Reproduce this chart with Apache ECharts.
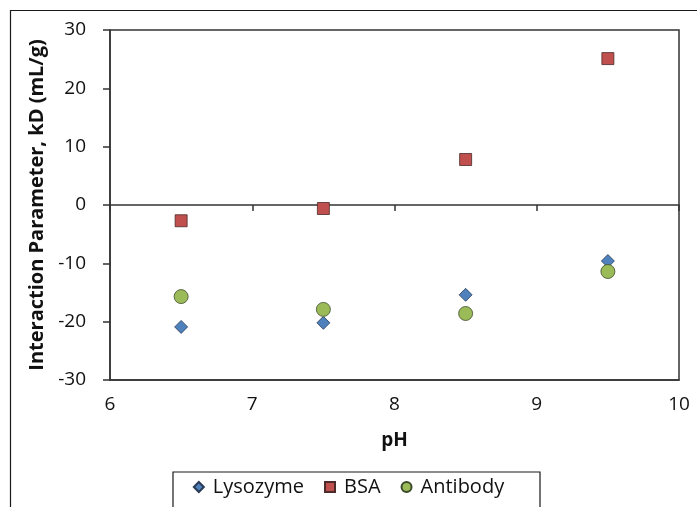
<!DOCTYPE html>
<html><head><meta charset="utf-8">
<script src="https://cdn.jsdelivr.net/npm/echarts@6/dist/echarts.min.js"></script>
<style>html,body{margin:0;padding:0;background:#fff}#c{width:697px;height:507px}</style>
</head><body><div id="c"></div>
<script>
const phValues = [6.5, 7.5, 8.5, 9.5];
const lysozyme = [-20.9, -20.2, -15.4, -9.6];
const bsa = [-2.7, -0.6, 7.8, 25.1];
const antibody = [-15.7, -17.9, -18.6, -11.4];
const xTicks = [6, 7, 8, 9, 10];
const yTicks = [-30, -20, -10, 0, 10, 20, 30];

const font = '"Open Sans", Lato, sans-serif';
const pair = (ys) => phValues.map((x, i) => [x, ys[i]]);
const chart = echarts.init(document.getElementById('c'));
chart.setOption({
  animation: false,
  graphic: [
    {type: 'rect', shape: {x: 10.5, y: 10.5, width: 700, height: 520}, style: {fill: 'none', stroke: '#1a1a1a', lineWidth: 1.2}, z: -1},
    {type: 'rect', shape: {x: 173, y: 472, width: 367, height: 50}, style: {fill: '#fff', stroke: '#1a1a1a', lineWidth: 1.2}, z: 0}
  ],
  grid: {left: 110, top: 30, right: 18, bottom: 127, show: true, borderColor: '#333', borderWidth: 1.5},
  legend: {
    bottom: 5, left: 'center', itemGap: 20, itemWidth: 10, itemHeight: 10,
    textStyle: {fontFamily: font, fontSize: 20, color: '#111', padding: [0, 0, 0, 4]},
    data: [
      {name: 'Lysozyme', icon: 'diamond'},
      {name: 'BSA', icon: 'rect'},
      {name: 'Antibody', icon: 'circle'}
    ], z: 5
  },
  xAxis: [{
    type: 'value', min: xTicks[0], max: xTicks[xTicks.length - 1], interval: 1,
    position: 'bottom',
    axisLine: {onZero: false, lineStyle: {color: '#333', width: 1.5}},
    axisTick: {show: false},
    splitLine: {show: false},
    axisLabel: {fontFamily: font, fontSize: 19, color: '#111', margin: 15},
    name: 'pH', nameLocation: 'middle', nameGap: 51,
    nameTextStyle: {fontFamily: font, fontSize: 19, fontWeight: 'bold', color: '#111'}
  }, {
    type: 'value', min: xTicks[0], max: xTicks[xTicks.length - 1], interval: 1,
    position: 'bottom',
    axisLine: {onZero: true, lineStyle: {color: '#333', width: 1.5}},
    axisTick: {show: true, length: 6, lineStyle: {color: '#333', width: 1.5}},
    axisLabel: {show: false},
    splitLine: {show: false}
  }],
  yAxis: {
    type: 'value', min: yTicks[0], max: yTicks[yTicks.length - 1], interval: 10,
    axisLine: {show: true, lineStyle: {color: '#333', width: 1.5}},
    axisTick: {show: true, length: 7, lineStyle: {color: '#333', width: 1.5}},
    splitLine: {show: false},
    axisLabel: {fontFamily: font, fontSize: 19, color: '#111', margin: 24},
    name: 'Interaction Parameter, kD (mL/g)', nameLocation: 'middle', nameGap: 58,
    nameTextStyle: {fontFamily: font, fontSize: 20, fontWeight: 'bold', color: '#111'}
  },
  series: [
    {name: 'Lysozyme', type: 'scatter', symbol: 'diamond', symbolSize: 13, data: pair(lysozyme),
     itemStyle: {color: '#4F81BD', opacity: 1, borderColor: '#2a3a55', borderWidth: 0.8}},
    {name: 'BSA', type: 'scatter', symbol: 'rect', symbolSize: 12, data: pair(bsa),
     itemStyle: {color: '#C0504D', opacity: 1, borderColor: '#4a2a2a', borderWidth: 0.8}},
    {name: 'Antibody', type: 'scatter', symbol: 'circle', symbolSize: 14, data: pair(antibody),
     itemStyle: {color: '#9BBB59', opacity: 1, borderColor: '#3c4a2a', borderWidth: 0.8}}
  ]
});
</script></body></html>
